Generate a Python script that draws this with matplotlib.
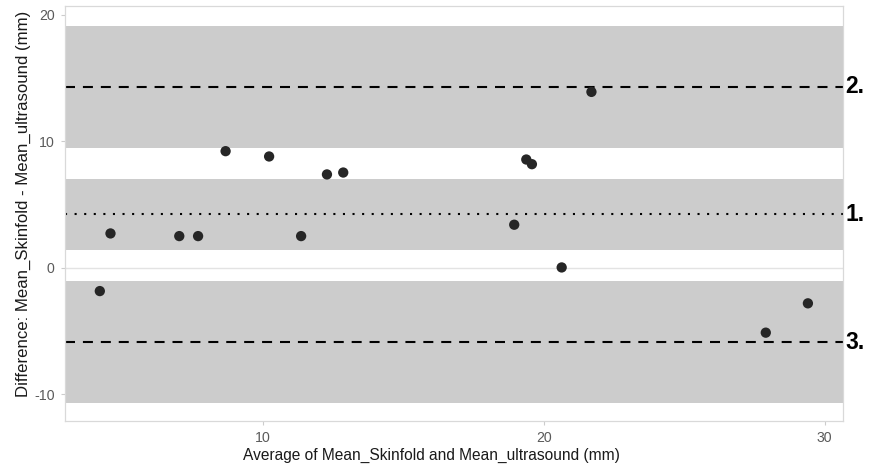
import matplotlib
matplotlib.use("Agg")
import matplotlib.pyplot as plt

plt.rcParams["font.family"] = ["Liberation Sans", "DejaVu Sans"]
plt.rcParams["axes.unicode_minus"] = False

# Data
avg_vals = [4.18, 4.56, 7.01, 7.68, 8.66, 10.21, 11.35, 12.27, 12.85,
            18.94, 19.37, 19.57, 20.63, 21.69, 27.90, 29.40]
diff_vals = [-1.85, 2.71, 2.50, 2.50, 9.22, 8.80, 2.50, 7.38, 7.53,
             3.40, 8.56, 8.19, 0.02, 13.91, -5.14, -2.82]

mean_diff = 4.21
upper_loa = 14.31
lower_loa = -5.88
# confidence bands (low, high)
band_lows = [9.51, 1.42, -10.70]
band_highs = [19.15, 7.04, -1.08]
labels_right = ["1.", "2.", "3."]
label_levels = [mean_diff, upper_loa, lower_loa]

xticks = [10, 20, 30]
yticks = [-10, 0, 10, 20]

W, H = 870, 470
fig = plt.figure(figsize=(W / 100, H / 100), dpi=100)
ax = fig.add_axes([65 / W, 49 / H, (843 - 65) / W, (464.3 - 49) / H])

ax.set_xlim(2.94, 30.65)
ax.set_ylim(-12.13, 20.73)

ax.axhline(0, color="#e3e3e3", lw=1.0, zorder=0)

for lo, hi in zip(band_lows, band_highs):
    ax.axhspan(lo, hi, color="#cccccc", lw=0, zorder=1)

ax.axhline(mean_diff, color="black", lw=1.5, linestyle=(0, (1, 3.6)), zorder=2)
ax.axhline(upper_loa, color="black", lw=1.5, linestyle=(0, (4.8, 3.8)), zorder=2)
ax.axhline(lower_loa, color="black", lw=1.5, linestyle=(0, (4.8, 3.8)), zorder=2)

ax.scatter(avg_vals, diff_vals, s=55, color="#262626", edgecolors="none", zorder=3)

ax.set_xticks(xticks)
ax.set_yticks(yticks)
ax.tick_params(axis="both", colors="#cccccc", labelcolor="#5a5a5a",
               labelsize=10.2, length=3, width=0.8, pad=4.5)
for s in ax.spines.values():
    s.set_color("#d9d9d9")
    s.set_linewidth(0.9)

fig.text(431 / W, 1 - 455 / H, "Average of Mean_Skinfold and Mean_ultrasound (mm)",
         fontsize=11.2, color="#1a1a1a", ha="center", va="center")
fig.text(23 / W, 1 - 204 / H, "Difference: Mean_Skinfold - Mean_ultrasound (mm)",
         fontsize=12.1, color="#1a1a1a", ha="center", va="center", rotation=90)

for lab, lev in zip(labels_right, label_levels):
    ax.annotate(lab, xy=(1.0, lev), xycoords=("axes fraction", "data"),
                xytext=(1.5, 0), textcoords="offset points",
                ha="left", va="center", fontsize=16.5, fontweight="bold",
                color="black", annotation_clip=False)

fig.savefig("out.png", dpi=100)
